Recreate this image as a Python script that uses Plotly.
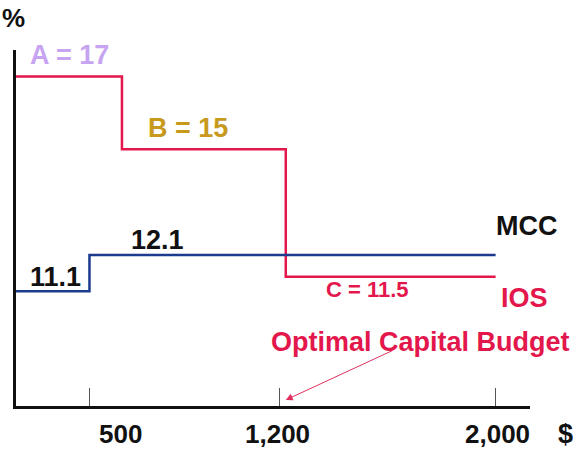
import plotly.graph_objects as go

# Investment opportunity schedule (IOS) and marginal cost of capital (MCC)
ios_budget = [0, 620, 1225, 2000]      # $ where each project's return starts / ends
ios_return = [17, 15, 11.5, 11.5]      # % return of projects A, B, C
ios_names = ["A = 17", "B = 15", "C = 11.5"]

mcc_budget = [0, 500, 2000]            # $ break point of the MCC schedule
mcc_cost = [11.1, 12.1, 12.1]          # % cost of capital

tick_budget = [500, 1200, 2000]
tick_text = ["500", "1,200", "2,000"]
optimal_budget = ios_budget[2]

RED = "#E3174B"
BLUE = "#1C3B8E"
FONT = "Liberation Sans, Arial, sans-serif"

fig = go.Figure()

fig.add_trace(go.Scatter(
    x=ios_budget, y=ios_return, mode="lines", line_shape="hv",
    line=dict(color=RED, width=2.5), hoverinfo="skip", showlegend=False,
))
fig.add_trace(go.Scatter(
    x=mcc_budget, y=mcc_cost, mode="lines", line_shape="hv",
    line=dict(color=BLUE, width=2.5), hoverinfo="skip", showlegend=False,
))


def label(text, x, y, color, size=27, yshift=0, xshift=0, xref="x", yref="y"):
    fig.add_annotation(
        text=f"<b>{text}</b>", x=x, y=y, xref=xref, yref=yref,
        xshift=xshift, yshift=yshift, showarrow=False,
        font=dict(family=FONT, size=size, color=color),
        xanchor="center", yanchor="middle",
    )


# Project labels on the IOS steps
label(ios_names[0], 428, ios_return[0], "#C7A4F2", yshift=22)
label(ios_names[1], 864, ios_return[1], "#C79A1E", yshift=21)
label(ios_names[2], 1525, ios_return[2], RED, size=22, yshift=-13)
label("IOS", 2105, ios_return[3], RED, yshift=-21)

# MCC labels
label(f"{mcc_cost[0]}", 373, mcc_cost[0], "#111111", yshift=14)
label(f"{mcc_cost[1]}", 753, mcc_cost[1], "#111111", yshift=15)
label("MCC", 2116, mcc_cost[2], "#111111", yshift=29)

# Axis captions
label("%", -0.004, 1.09, "#111111", size=26, xref="paper", yref="paper")
label("$", 1.07, -0.079, "#111111", xref="paper", yref="paper")

# Budget tick labels
for v, t, dx in zip(tick_budget, tick_text, [31, -2, 2]):
    fig.add_annotation(
        text=f"<b>{t}</b>", x=v, y=-0.079, xref="x", yref="paper",
        xshift=dx, showarrow=False,
        font=dict(family=FONT, size=26, color="#111111"),
        xanchor="center", yanchor="middle",
    )

# Optimal capital budget callout
label("Optimal Capital Budget", 0.786, 0.18, RED, xref="paper", yref="paper")
fig.add_annotation(
    x=optimal_budget, y=0.017, xref="x", yref="paper",
    ax=108, ay=-50, axref="pixel", ayref="pixel",
    text="", showarrow=True, arrowhead=2, arrowsize=1.4, arrowwidth=1,
    arrowcolor="#E0305E", standoff=0,
)

fig.update_xaxes(
    range=[228.7, 2127], showgrid=False, zeroline=False,
    showline=True, linecolor="#111111", linewidth=3,
    tickmode="array", tickvals=tick_budget, ticks="inside", ticklen=18,
    tickwidth=1, tickcolor="#555555", showticklabels=False,
)
fig.update_yaxes(
    range=[7.95, 17.73], showgrid=False, zeroline=False,
    showline=True, linecolor="#111111", linewidth=2.5,
    ticks="", showticklabels=False,
)

fig.update_layout(
    width=573, height=449, autosize=False,
    margin=dict(l=16, r=43, t=50, b=43),
    paper_bgcolor="white", plot_bgcolor="white",
)

fig.write_html("out.html")
